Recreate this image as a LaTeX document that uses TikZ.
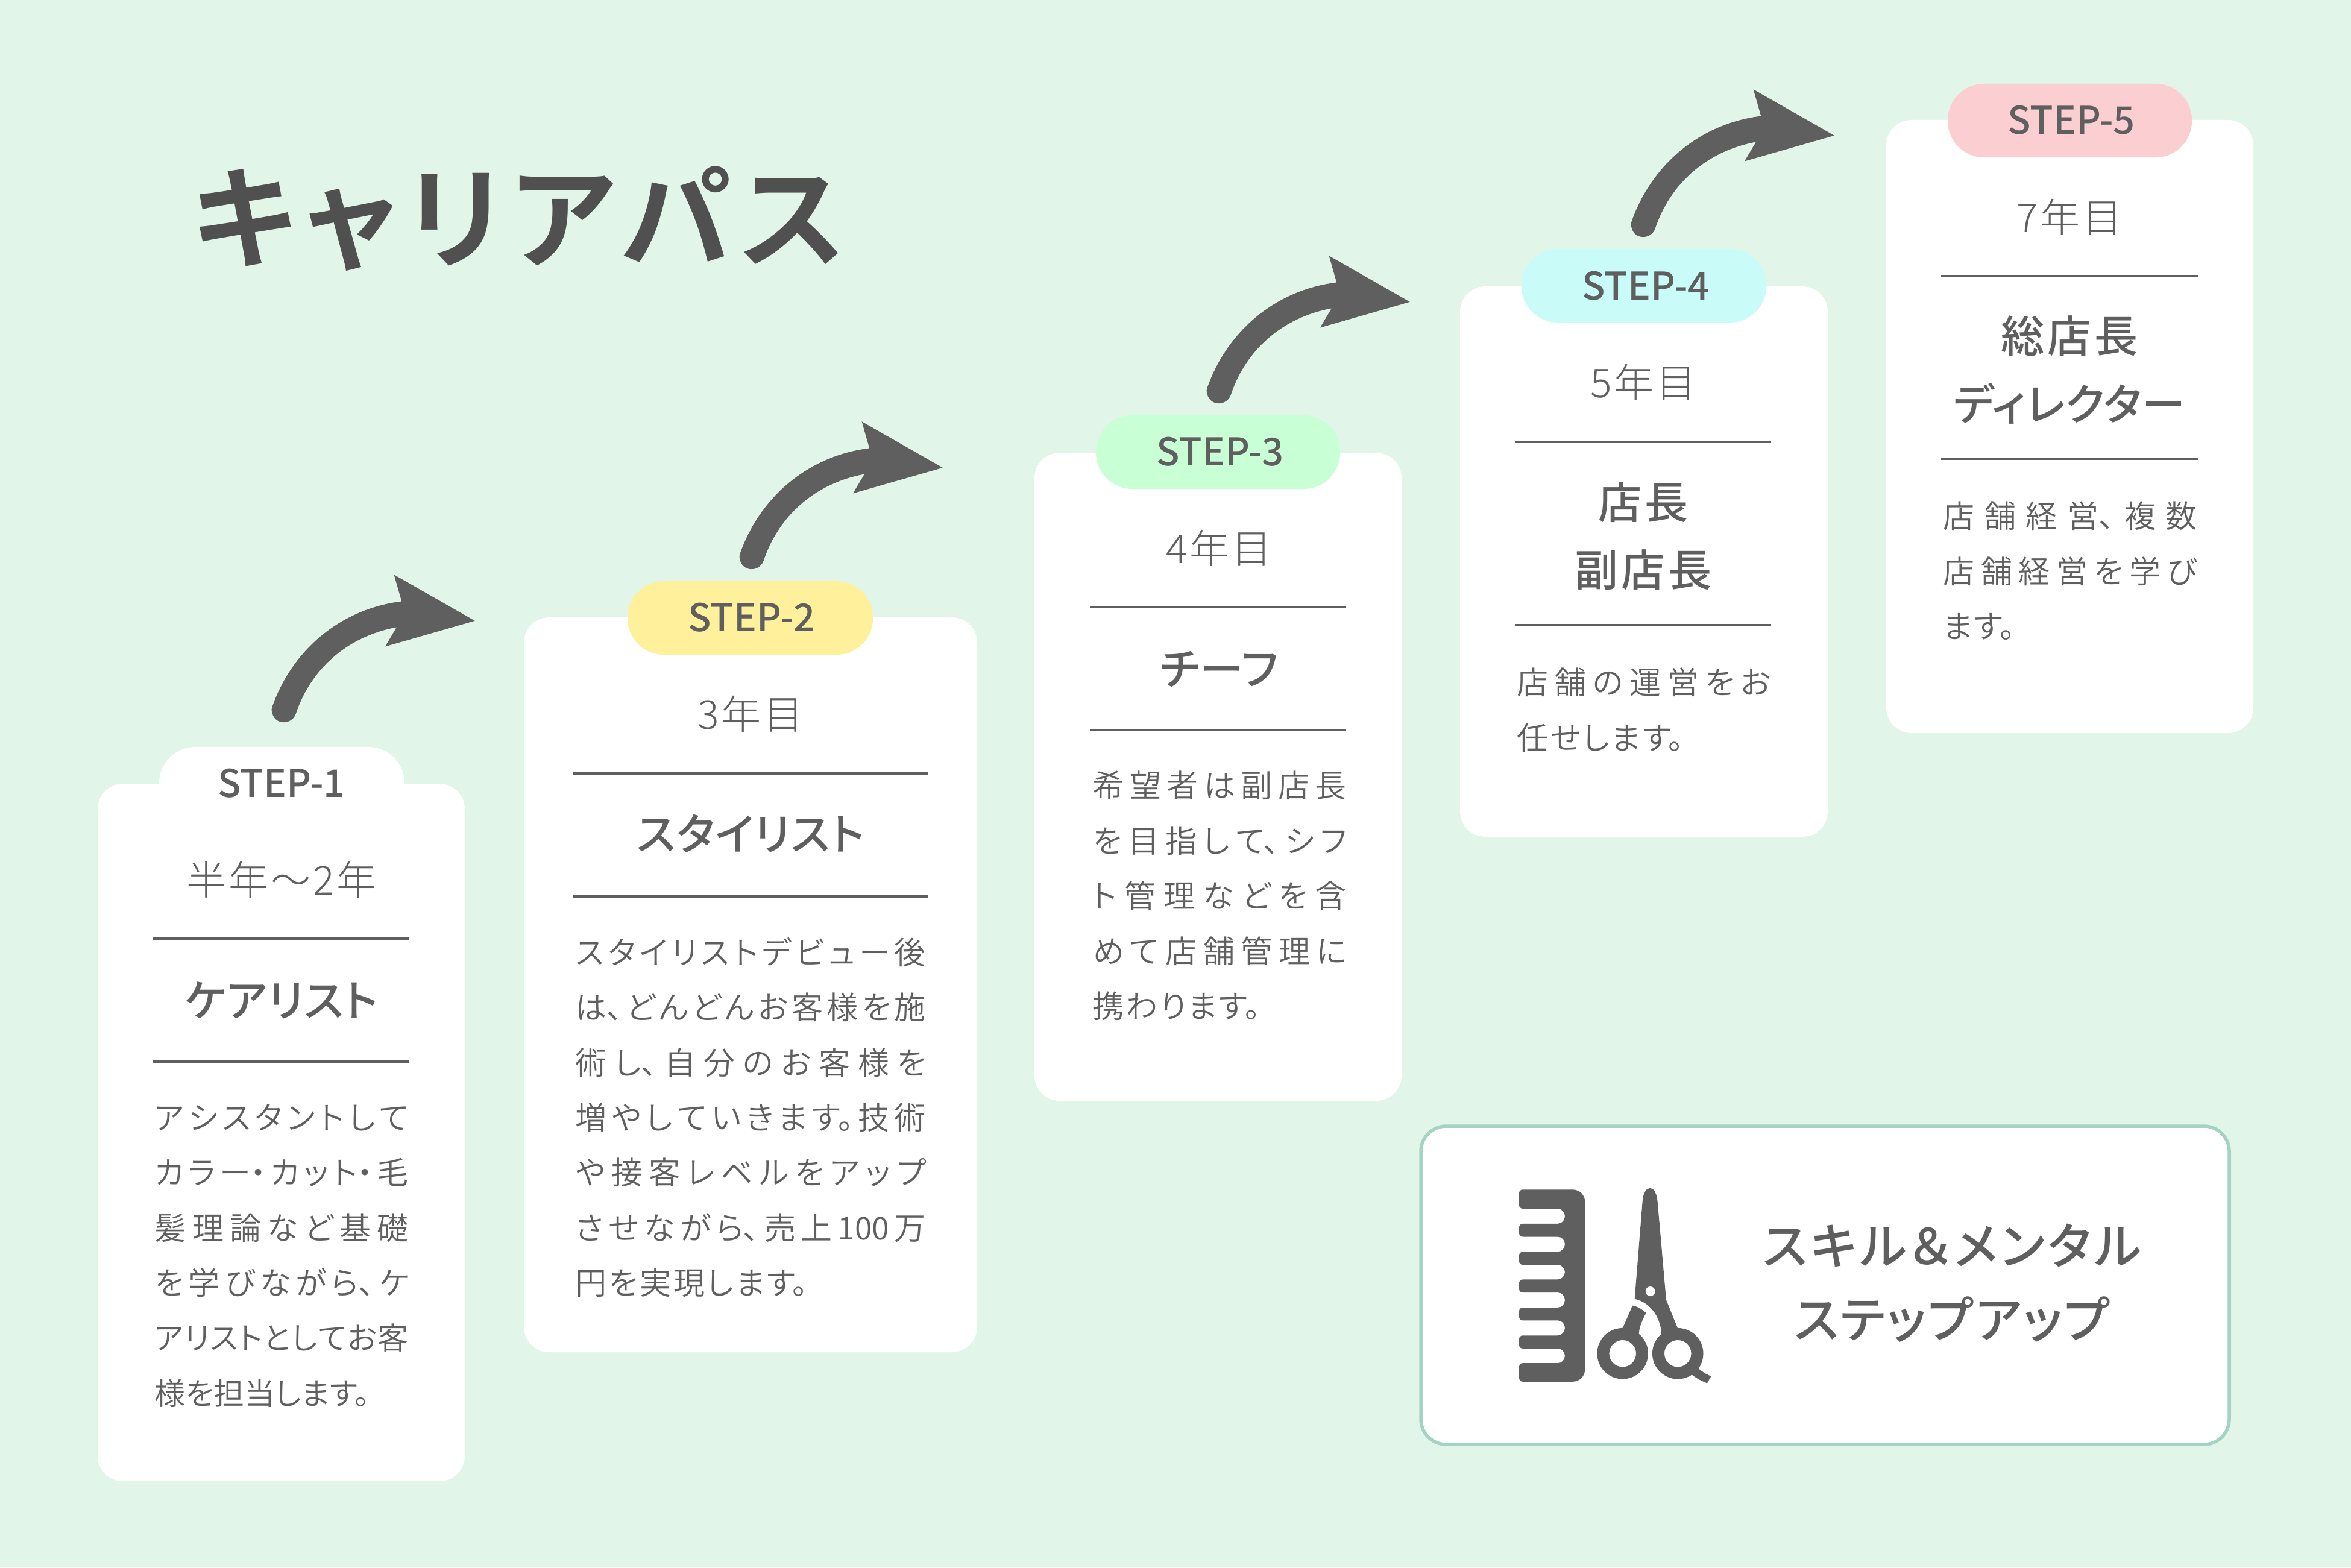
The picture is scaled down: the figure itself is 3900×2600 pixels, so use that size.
\documentclass[tikz,border=0pt]{standalone}
\usepackage{fontspec}
\newfontfamily\fl[RawFeature=+palt]{Noto Sans CJK JP DemiLight}
\newfontfamily\fy[RawFeature=+palt]{Noto Sans CJK JP Light}
\newfontfamily\fm[RawFeature=+palt]{Noto Sans CJK JP Medium}
\newfontfamily\fb[RawFeature=+palt]{Noto Sans CJK JP Bold}
\setmainfont[RawFeature=+palt]{Noto Sans CJK JP}
\XeTeXlinebreaklocale "ja"
\XeTeXlinebreakskip=1pt plus 40pt minus 1pt
\definecolor{bg}{HTML}{E2F5E9}
\definecolor{ink}{HTML}{5F5F5F}
\definecolor{titleink}{HTML}{505050}
\definecolor{panelline}{HTML}{A3D3C2}
\definecolor{tabtwo}{HTML}{FFF19B}
\definecolor{tabthree}{HTML}{C9FFD5}
\definecolor{tabfour}{HTML}{C9FBF9}
\definecolor{tabfive}{HTML}{FBCFD1}
\newcommand{\JL}[1]{\parfillskip=0pt #1\par}
\newcommand{\LL}[1]{\parfillskip=0pt plus 1fil #1\par}
\newcommand{\bodyblock}[2]{\parbox[t]{#1}{\fl\fontsize{14.8}{26}\selectfont\color{ink}\parindent=0pt\parskip=0pt\hbadness=10000\hfuzz=20pt\tolerance=10000\baselineskip=26pt\lineskiplimit=-100pt #2}}
\newcommand{\fatarrow}[2]{%
  \begin{scope}[shift={(#1,#2)},x=0.00333333cm,y=-0.00333333cm]
    \fill[ink] (158,750) .. controls (260,470) and (500,270) .. (800,233) -- (762,100) -- (1165,330) -- (718,458) -- (775,362)
      .. controls (540,405) and (350,560) .. (272,795) .. controls (250,850) and (170,850) .. (155,790) .. controls (150,775) and (152,765) .. (158,750) -- cycle;
  \end{scope}}
\tikzset{
  card/.style={fill=white,rounded corners=0.42cm},
  tabpill/.style={rounded corners=0.6cm},
  rulex/.style={draw=ink,line width=0.04cm},
  steptxt/.style={anchor=base,inner sep=0,text=ink,font=\fm\fontsize{18}{20}\selectfont},
  yeartxt/.style={anchor=base,inner sep=0,text=ink,font=\fy\fontsize{18.8}{20}\selectfont\addfontfeature{LetterSpace=6}},
  roletxt/.style={anchor=base,inner sep=0,text=ink,font=\fm\fontsize{20.5}{24}\selectfont\addfontfeature{LetterSpace=2}},
  rolekanji/.style={anchor=base,inner sep=0,text=ink,font=\fm\fontsize{20.5}{24}\selectfont\addfontfeature{LetterSpace=8}},
  paneltxt/.style={anchor=base,inner sep=0,text=ink,font=\fm\fontsize{23.3}{28}\selectfont\addfontfeature{LetterSpace=7}},
  panelsub/.style={anchor=base,inner sep=0,text=ink,font=\fm\fontsize{23.3}{28}\selectfont\addfontfeature{LetterSpace=4}},
  bodytxt/.style={anchor=base west,inner sep=0},
}
\begin{document}
\begin{tikzpicture}[x=0.01cm,y=-0.01cm]
\useasboundingbox (0,0) rectangle (3900,2600);
\fill[bg] (0,0) rectangle (3900,2600);

\node[anchor=base,inner sep=0,text=titleink,font=\fb\fontsize{52.5}{56}\selectfont\addfontfeature{LetterSpace=8}] (title) at (860,430) {キャリアパス};

% cards
\fill[card] (162,1300) rectangle (771,2457);
\fill[card] (869,1024) rectangle (1621,2243);
\fill[card] (1716,751) rectangle (2325,1826);
\fill[card] (2422,475) rectangle (3032,1388);
\fill[card] (3129,199) rectangle (3738,1216);

% tabs
\fill[white,tabpill] (264,1239) rectangle (671,1361);
\fill[tabtwo,tabpill] (1041,964) rectangle (1448,1086);
\fill[tabthree,tabpill] (1818,689) rectangle (2223,811);
\fill[tabfour,tabpill] (2524,413) rectangle (2930,535);
\fill[tabfive,tabpill] (3231,139) rectangle (3636,261);

\node[steptxt] (s1) at (467,1322) {STEP-1};
\node[steptxt] (s2) at (1247,1047) {STEP-2};
\node[steptxt] (s3) at (2024,772) {STEP-3};
\node[steptxt] (s4) at (2730,497) {STEP-4};
\node[steptxt] (s5) at (3436,222) {STEP-5};

% years
\node[yeartxt] (y1) at (467,1484) {半年～2年};
\node[yeartxt] (y2) at (1245,1209) {3年目};
\node[yeartxt] (y3) at (2022,934) {4年目};
\node[yeartxt] (y4) at (2726,659) {5年目};
\node[yeartxt] (y5) at (3433,385) {7年目};

% rules
\draw[rulex] (254,1557) -- (679,1557);
\draw[rulex] (254,1761) -- (679,1761);
\draw[rulex] (950,1283) -- (1539,1283);
\draw[rulex] (950,1487) -- (1539,1487);
\draw[rulex] (1808,1007) -- (2233,1007);
\draw[rulex] (1808,1211) -- (2233,1211);
\draw[rulex] (2514,733) -- (2938,733);
\draw[rulex] (2514,1037) -- (2938,1037);
\draw[rulex] (3220,458) -- (3646,458);
\draw[rulex] (3220,761) -- (3646,761);

% roles
\node[roletxt] (r1) at (467,1686) {ケアリスト};
\node[roletxt] (r2) at (1245,1410) {スタイリスト};
\node[roletxt] (r3) at (2022,1136) {チーフ};
\node[rolekanji] (r4a) at (2726,860) {店長};
\node[rolekanji] (r4b) at (2726,972) {副店長};
\node[rolekanji] (r5a) at (3433,584) {総店長};
\node[roletxt] (r5b) at (3433,697) {ディレクター};

% bodies
\node[bodytxt] (b1) at (256,1831) {\bodyblock{4.21cm}{\JL{アシスタントして}\JL{カラー・カット・毛}\JL{髪理論など基礎}\JL{を学びながら、ケ}\JL{\XeTeXlinebreakskip=0pt plus 40pt\fontsize{14.5}{26}\selectfont アリストとしてお客}\LL{様を担当します。}}};
\node[bodytxt] (b2) at (954,1555) {\bodyblock{5.81cm}{\JL{スタイリストデビュー後}\JL{は、どんどんお客様を施}\JL{術し、自分のお客様を}\JL{増やしていきます。技術}\JL{や接客レベルをアップ}\JL{させながら、売上100万}\LL{円を実現します。}}};
\node[bodytxt] (b3) at (1812,1279) {\bodyblock{4.21cm}{\JL{希望者は副店長}\JL{を目指して、シフ}\JL{ト管理などを含}\JL{めて店舗管理に}\LL{携わります。}}};
\node[bodytxt] (b4) at (2516,1108) {\bodyblock{4.21cm}{\JL{店舗の運営をお}\LL{任せします。}}};
\node[bodytxt] (b5) at (3223,832) {\bodyblock{4.21cm}{\JL{店舗経営、複数}\JL{店舗経営を学び}\LL{ます。}}};

% arrows
\fatarrow{400}{920}
\fatarrow{1176}{666}
\fatarrow{1951}{391}
\fatarrow{2655}{115}

% panel
\filldraw[fill=white,draw=panelline,line width=0.055cm,rounded corners=0.42cm] (2357,1868) rectangle (3698,2396);
\node[paneltxt] (p1) at (3238,2097) {スキル＆メンタル};
\node[panelsub] (p2) at (3238,2219) {ステップアップ};

% icon
\begin{scope}[shift={(2500,1950)},x=0.00333333cm,y=-0.00333333cm]
  \fill[ink,rounded corners=0.06cm] (60,70) [rounded corners=0.2cm] -- (388,70) -- (388,1027) [rounded corners=0.06cm] -- (60,1027) -- (60,935)
    [rounded corners=0.12cm] -- (288,935) -- (288,862) [rounded corners=0.06cm] -- (60,862) -- (60,797)
    [rounded corners=0.12cm] -- (288,797) -- (288,722) [rounded corners=0.06cm] -- (60,722) -- (60,658)
    [rounded corners=0.12cm] -- (288,658) -- (288,583) [rounded corners=0.06cm] -- (60,583) -- (60,518)
    [rounded corners=0.12cm] -- (288,518) -- (288,445) [rounded corners=0.06cm] -- (60,445) -- (60,380)
    [rounded corners=0.12cm] -- (288,380) -- (288,305) [rounded corners=0.06cm] -- (60,305) -- (60,240)
    [rounded corners=0.12cm] -- (288,240) -- (288,165) [rounded corners=0.06cm] -- (60,165) -- cycle;
  % blade
  \fill[ink] (636,615) -- (675,130) .. controls (682,40) and (742,40) .. (750,130) -- (793,620) -- (850,760) -- (862,770) -- (770,792)
     .. controls (765,700) and (710,630) .. (636,615) -- cycle;
  \fill[white] (714,577) circle[radius=24];
  % handle
  \fill[ink] (625,648) .. controls (650,652) and (675,668) .. (693,685) .. controls (672,722) and (658,760) .. (657,790) -- (600,790) -- (565,768) -- (578,757) -- cycle;
  % rings
  \fill[ink,even odd rule] (576,887) circle[radius=127] (576,887) circle[radius=67];
  \fill[ink,even odd rule] (851,887) circle[radius=127] (851,887) circle[radius=67];
  % tail
  \fill[ink] (952,960) .. controls (975,980) and (995,992) .. (1017,1000) -- (997,1035) .. controls (965,1022) and (940,1008) .. (918,990) -- (905,955) -- cycle;
\end{scope}
\end{tikzpicture}
\end{document}
